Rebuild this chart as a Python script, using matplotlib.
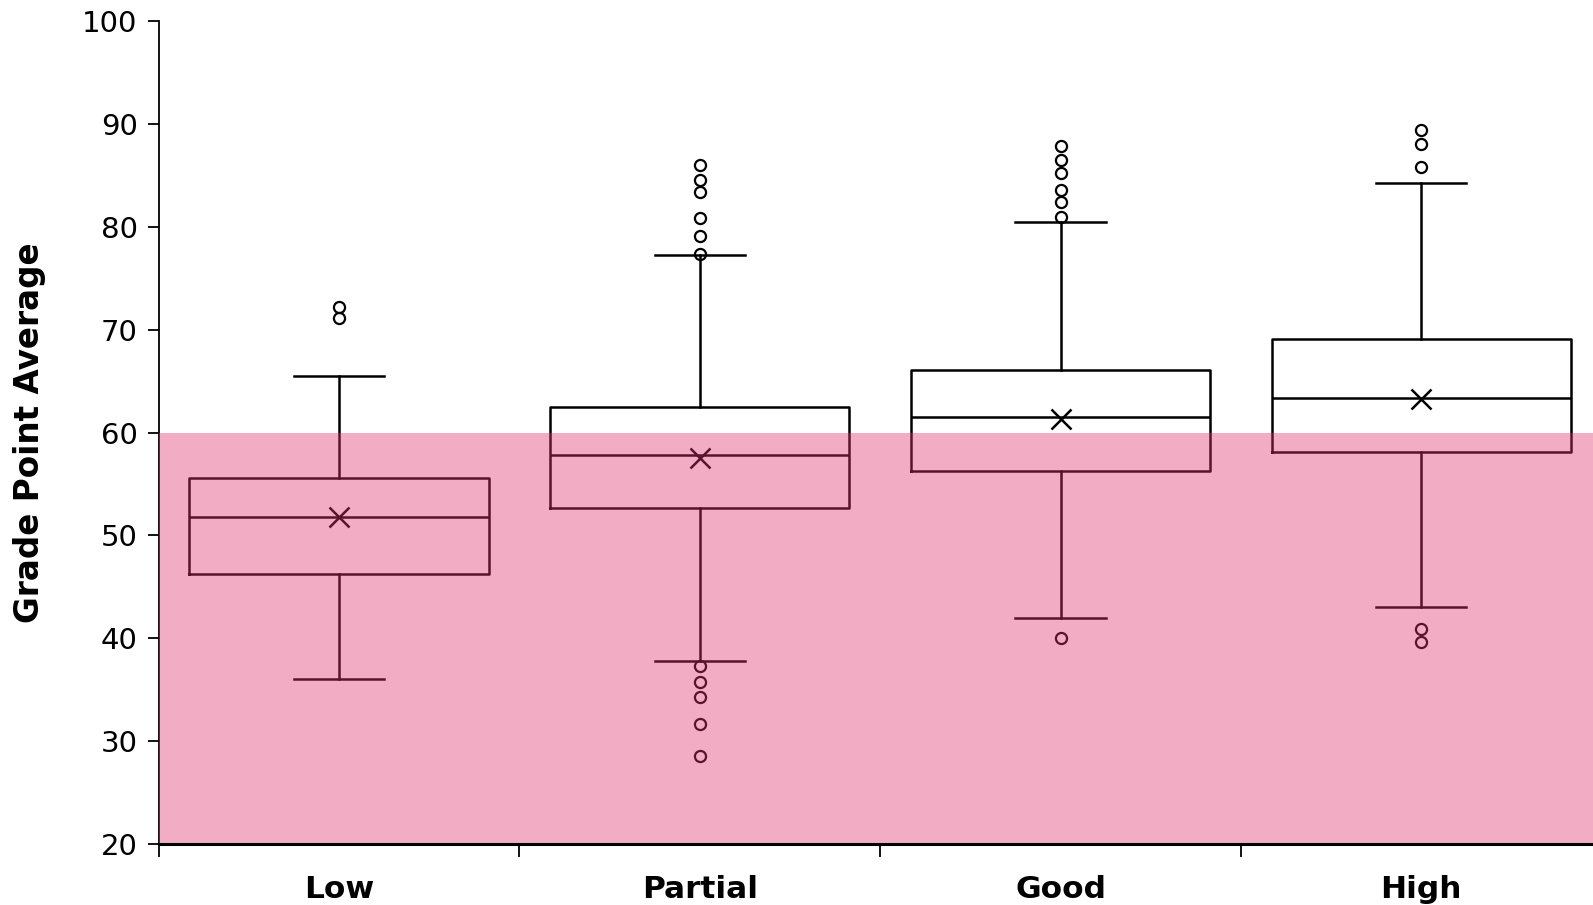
import matplotlib
matplotlib.use("Agg")
from matplotlib import pyplot as plt
import numpy as np

# reading of the reference picture
categories = ["Low", "Partial", "Good", "High"]
whislo = [36.0, 37.8, 42.0, 43.0]
q1 = [46.3, 52.7, 56.3, 58.1]
med = [51.8, 57.8, 61.5, 63.4]
q3 = [55.6, 62.5, 66.1, 69.1]
whishi = [65.5, 77.3, 80.5, 84.3]
means = [51.8, 57.5, 61.3, 63.3]
fliers = [
    [72.2, 71.1],
    [86.0, 84.6, 83.4, 80.9, 79.1, 77.4, 37.3, 35.8, 34.3, 31.7, 28.6],
    [87.9, 86.5, 85.2, 83.6, 82.4, 81.0, 40.0],
    [89.4, 88.1, 85.8, 40.9, 39.6],
]
fail_lo = 20
fail_hi = 60

stats = []
for i, name in enumerate(categories):
    stats.append(dict(label=name, whislo=whislo[i], q1=q1[i], med=med[i],
                      q3=q3[i], whishi=whishi[i], mean=means[i],
                      fliers=fliers[i]))

fig = plt.figure(figsize=(15.93, 9.05), dpi=100)
# plot area runs a little past the right edge of the figure, like the original
ax = fig.add_axes([0.0995, 0.0674, 0.906, 0.9091])

pos = np.arange(len(categories)) + 0.5
lw = 1.8
ax.bxp(stats, positions=pos, widths=0.83, showmeans=True,
       boxprops=dict(color="black", linewidth=lw),
       medianprops=dict(color="black", linewidth=lw),
       whiskerprops=dict(color="black", linewidth=lw),
       capprops=dict(color="black", linewidth=lw),
       capwidths=0.25,
       meanprops=dict(marker="x", markersize=15, markeredgecolor="black",
                      markeredgewidth=1.8),
       flierprops=dict(marker="o", markersize=8, markerfacecolor="none",
                       markeredgecolor="black", markeredgewidth=1.6))

# failing band drawn over the boxes
ax.axhspan(fail_lo, fail_hi, xmin=0, xmax=1, color=(0.88, 0.2, 0.44),
           alpha=0.4, lw=0, zorder=5)

ax.set_xlim(0, len(categories))
ax.set_ylim(20, 100)
ax.set_yticks(np.arange(20, 101, 10))
ax.set_xticks(np.arange(0, len(categories)))
ax.set_xticklabels([])
ax.set_xticks(pos, minor=True)
ax.set_xticklabels(categories, minor=True, fontsize=22.5, fontweight="bold")
ax.tick_params(axis="x", which="minor", length=0, pad=22)
ax.tick_params(axis="x", which="major", length=9, width=1.3, direction="out")
ax.tick_params(axis="y", length=8, width=1.3, labelsize=21, pad=7)

ax.spines["top"].set_visible(False)
ax.spines["right"].set_visible(False)
ax.spines["left"].set_linewidth(1.3)
ax.spines["bottom"].set_linewidth(2.2)
ax.spines["bottom"].set_zorder(6)

ax.set_ylabel("Grade Point Average", fontsize=23.5, fontweight="bold")
ax.yaxis.set_label_coords(-0.078, 0.5)

plt.savefig("out.png", dpi=100)
